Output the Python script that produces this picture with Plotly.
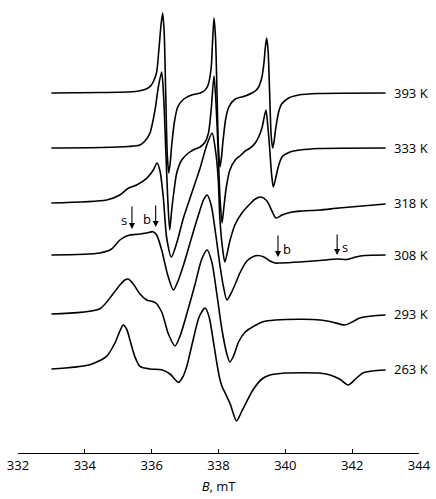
import plotly.graph_objects as go

# EPR spectra, B (mT) vs intensity (arb. units, above each trace's baseline)
temps = ["393 K", "333 K", "318 K", "308 K", "293 K", "263 K"]
offsets = [-93, -148, -203, -255, -314, -369]

B_393 = [333.0, 334.5, 335.4, 335.65, 335.8, 335.95, 336.06, 336.15, 336.22, 336.28, 336.33, 336.375,
         336.42, 336.465, 336.51, 336.555, 336.60, 336.69, 336.78, 336.96, 337.2, 337.45, 337.6, 337.69,
         337.78, 337.82, 337.865, 337.91, 337.955, 338.0, 338.045, 338.09, 338.135, 338.22, 338.31, 338.5,
         338.8, 339.0, 339.1, 339.2, 339.3, 339.36, 339.40, 339.44, 339.485, 339.53, 339.575, 339.62,
         339.665, 339.71, 339.80, 339.89, 340.1, 340.4, 341.0, 343.0]
I_393 = [0, 0.5, 1.2, 2.3, 3.5, 6.3, 12, 21, 45, 68, 80, 60,
         0, -60, -80, -70, -52, -27, -14, -6, -2, 0, 3, 8,
         25, 50, 75, 56, 0, -56, -74, -64, -48, -25, -14, -6,
         -3, 0, 2, 6, 16, 30, 45, 55, 42, 0, -42, -55,
         -48, -36, -19, -11, -5, -2, -0.5, 0]

B_333 = [333.0, 334.5, 335.3, 335.65, 335.80, 335.95, 336.10, 336.20, 336.30, 336.36, 336.42, 336.48,
         336.54, 336.60, 336.66, 336.75, 336.9, 337.1, 337.3, 337.45, 337.6, 337.7, 337.78, 337.865,
         337.925, 337.985, 338.045, 338.105, 338.165, 338.23, 338.34, 338.5, 338.64, 338.8, 338.95, 339.1,
         339.2, 339.3, 339.42, 339.475, 339.53, 339.585, 339.64, 339.70, 339.78, 339.9, 340.14, 340.44,
         341.0, 343.0]
I_333 = [0, 0.5, 1.5, 3, 7, 15, 38, 61, 76, 50, 0, -50,
         -82, -62, -45, -25, -12, -5, -1, 1, 6, 15, 38, 72,
         45, 0, -50, -75, -58, -40, -22, -12, -8, -3, 0, 5,
         11, 20, 38, 22, 0, -25, -39, -32, -20, -9, -4, -2,
         -0.5, 0]

B_318 = [333.0, 334.65, 335.05, 335.30, 335.55, 335.85, 336.05, 336.16, 336.25, 336.35, 336.45, 336.59,
         336.75, 336.95, 337.20, 337.45, 337.65, 337.81, 337.90, 337.99, 338.04, 338.12, 338.19, 338.34,
         338.49, 338.70, 338.94, 339.10, 339.27, 339.45, 339.60, 339.72, 339.90, 340.2, 340.5, 341.04,
         341.6, 342.3, 343.0]
I_318 = [0, 3, 8, 14.7, 18, 24.7, 33, 40, 32, 5, -35, -54,
         -40, -15, 10, 35, 58, 70, 55, 25, -15, -45, -59, -38,
         -22, -10, -1, 4, 6, 2, -8, -15, -12, -9, -8, -7,
         -5, -3, -1]

B_308 = [333.0, 334.45, 334.80, 335.05, 335.25, 335.35, 335.50, 335.65, 335.85, 336.04, 336.15, 336.30,
         336.48, 336.65, 336.80, 337.00, 337.20, 337.40, 337.55, 337.66, 337.78, 337.92, 338.05, 338.15,
         338.25, 338.35, 338.49, 338.64, 338.85, 339.03, 339.18, 339.36, 339.54, 339.69, 339.84, 340.44,
         341.04, 341.55, 341.85, 342.11, 342.38, 343.0]
I_308 = [0, 2, 6, 15, 19, 20, 20.5, 21, 22, 23.3, 20, 5,
         -20, -35, -25, -5, 18, 40, 55, 60, 50, 20, -12, -32,
         -45, -40, -30, -18, -6, -1.7, -0.5, -2, -6, -8, -8, -7,
         -5.5, -4, -4.5, -2, -0.5, 0]

B_293 = [333.0, 334.45, 334.84, 335.05, 335.20, 335.30, 335.45, 335.65, 335.85, 336.10, 336.30, 336.50,
         336.70, 336.85, 337.05, 337.30, 337.50, 337.66, 337.80, 337.95, 338.10, 338.25, 338.34, 338.45,
         338.60, 338.80, 339.03, 339.33, 339.70, 340.53, 341.04, 341.40, 341.78, 342.00, 342.23, 342.60,
         343.0]
I_293 = [0, 5.3, 20, 29, 34, 35, 30, 20, 14, 11.6, 2, -20,
         -32, -22, 0, 30, 55, 64, 52, 20, -15, -40, -48, -42,
         -28, -18, -12.7, -7.7, -6, -5.3, -6, -8, -11, -8, -4, -2,
         -1]

B_263 = [333.0, 334.15, 334.65, 334.90, 335.05, 335.15, 335.25, 335.35, 335.50, 335.65, 335.95, 336.30,
         336.55, 336.80, 336.93, 337.05, 337.24, 337.42, 337.60, 337.72, 337.84, 337.97, 338.04, 338.10,
         338.20, 338.35, 338.54, 338.70, 339.03, 339.30, 339.54, 340.0, 340.53, 341.00, 341.34, 341.62,
         341.88, 342.10, 342.32, 342.60, 343.0]
I_263 = [0, 4.3, 12.6, 26, 38, 44, 40, 29, 12, 2.6, 0, -0.7,
         -5, -13.4, -8, 2.6, 29, 52, 61, 52, 29, 2, -10, -17,
         -24, -35, -52, -42, -21, -10, -6, -4, -3.7, -4, -6, -10,
         -16, -10, -4, -2, -1]

series = [(B_393, I_393), (B_333, I_333), (B_318, I_318), (B_308, I_308), (B_293, I_293), (B_263, I_263)]

# Component markers on the 308 K trace: (field, label, side, arrow top, arrow tip)
marks_B = [335.41, 336.12, 339.78, 341.55]
marks_lab = ["s", "b", "b", "s"]
marks_side = ["left", "left", "right", "right"]
marks_top = [-205, -204, -234, -233]
marks_tip = [-229, -227, -257, -255]

FONT = "Open Sans"

fig = go.Figure()
for (b, i), off, t in zip(series, offsets, temps):
    fig.add_trace(go.Scatter(x=b, y=[v + off for v in i], mode="lines",
                             line=dict(color="black", width=1.6, shape="spline", smoothing=0.7),
                             hoverinfo="skip", showlegend=False))
    fig.add_annotation(x=343.2, y=off, text=t, showarrow=False, xanchor="left", yanchor="middle",
                       font=dict(family=FONT, size=13, color="black"))

for bx, lab, side, top, tip in zip(marks_B, marks_lab, marks_side, marks_top, marks_tip):
    fig.add_annotation(x=bx, y=tip, ax=bx, ay=top, xref="x", yref="y", axref="x", ayref="y",
                       showarrow=True, arrowhead=2, arrowsize=1.1, arrowwidth=1.1, arrowcolor="black", text="")
    fig.add_annotation(x=bx + (-0.08 if side == "left" else 0.08), y=(top + tip) / 2 - 3, text=lab,
                       showarrow=False, xanchor="right" if side == "left" else "left", yanchor="middle",
                       font=dict(family=FONT, size=13, color="black"))

fig.update_layout(
    width=436, height=499, margin=dict(l=18, r=17, t=0, b=46),
    paper_bgcolor="white", plot_bgcolor="white",
    xaxis=dict(range=[332, 344], tickvals=[332, 334, 336, 338, 340, 342, 344],
               ticks="inside", ticklen=4, tickwidth=1.2, tickcolor="black", showline=True, linecolor="black",
               linewidth=1.2, showgrid=False, zeroline=False,
               tickfont=dict(family=FONT, size=13, color="black"),
               title=dict(text="<i>B</i>, mT", font=dict(family=FONT, size=13, color="black"), standoff=9)),
    yaxis=dict(range=[-453, 0], visible=False),
)
fig.write_html("out.html")
